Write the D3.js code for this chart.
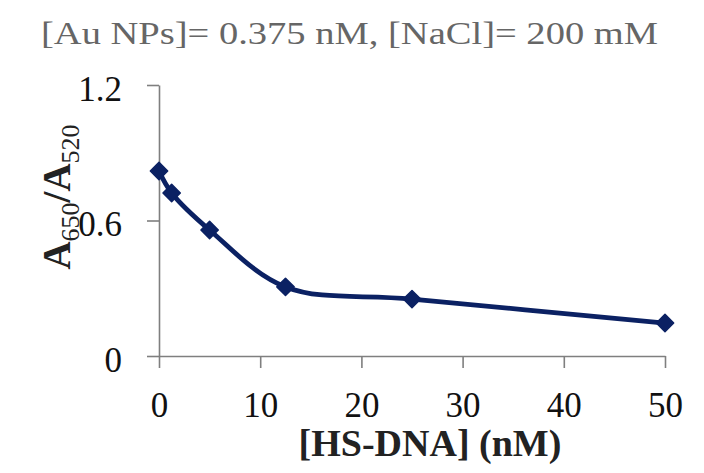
<!DOCTYPE html>
<html>
<head>
<meta charset="utf-8">
<script src="https://cdn.jsdelivr.net/npm/d3@7"></script>
<style>
  body { margin: 0; background: #fff; }
  svg { display: block; }
</style>
</head>
<body>
<svg id="chart"></svg>
<script>
// data
var dnaConc = [0, 1.25, 5, 12.5, 25, 50];
var ratio = [0.819, 0.722, 0.558, 0.306, 0.252, 0.146];
var xTicks = [0, 10, 20, 30, 40, 50];
var yTicks = [0, 0.6, 1.2];

var width = 704, height = 473;
var lineColor = "#0b2163", axisColor = "#7f7f7f";
var serif = "'Liberation Serif', 'Times New Roman', serif";

var svg = d3.select("#chart")
    .attr("width", width)
    .attr("height", height)
    .style("font-family", serif);

var x = d3.scaleLinear().domain([0, 50]).range([159, 665]);
var y = d3.scaleLinear().domain([0, 1.2]).range([356, 85]);

// title
svg.append("text")
    .attr("x", 41)
    .attr("y", 44)
    .attr("textLength", 617)
    .attr("lengthAdjust", "spacingAndGlyphs")
    .style("font-size", "32px")
    .attr("fill", "#666")
    .text("[Au NPs]= 0.375 nM, [NaCl]= 200 mM");

// x axis
var xAxis = svg.append("g")
    .attr("transform", "translate(0," + y(0) + ")")
    .call(d3.axisBottom(x).tickValues(xTicks).tickSize(12).tickSizeOuter(0).tickFormat(d3.format("d")))
    .attr("font-family", serif);
xAxis.select(".domain").attr("stroke", axisColor).attr("stroke-width", 1.6);
xAxis.selectAll(".tick line").attr("stroke", axisColor).attr("stroke-width", 1.6);
xAxis.selectAll(".tick text")
    .attr("y", 61)
    .attr("dy", 0)
    .style("font-size", "35px")
    .attr("fill", "#111");

// y axis
var yAxis = svg.append("g")
    .attr("transform", "translate(" + x(0) + ",0)")
    .call(d3.axisLeft(y).tickValues(yTicks).tickSize(12).tickSizeOuter(0).tickFormat(function(d) { return d === 0 ? "0" : d3.format(".1f")(d); }))
    .attr("font-family", serif);
yAxis.select(".domain").attr("stroke", axisColor).attr("stroke-width", 1.6);
yAxis.selectAll(".tick line").attr("stroke", axisColor).attr("stroke-width", 1.6);
yAxis.selectAll(".tick text")
    .attr("x", -37)
    .attr("dy", "0.43em")
    .style("font-size", "35px")
    .attr("fill", "#111");

// axis titles
svg.append("text")
    .attr("x", 430)
    .attr("y", 456)
    .attr("text-anchor", "middle")
    .style("font-size", "38px")
    .style("font-weight", "bold")
    .attr("fill", "#222")
    .text("[HS-DNA] (nM)");

var yTitle = svg.append("text")
    .attr("transform", "translate(70,197) rotate(-90)")
    .attr("text-anchor", "middle")
    .style("font-size", "39px")
    .style("font-weight", "bold")
    .attr("fill", "#222");
yTitle.append("tspan").text("A");
yTitle.append("tspan").attr("dy", 9).style("font-size", "26px").style("font-weight", "normal").text("650");
yTitle.append("tspan").attr("dy", -9).text("/A");
yTitle.append("tspan").attr("dy", 9).style("font-size", "26px").style("font-weight", "normal").text("520");

// smoothed line
var line = d3.line()
    .x(function(d, i) { return x(dnaConc[i]); })
    .y(function(d) { return y(d); })
    .curve(d3.curveCatmullRom.alpha(0.5));

svg.append("path")
    .datum(ratio)
    .attr("d", line)
    .attr("fill", "none")
    .attr("stroke", lineColor)
    .attr("stroke-width", 4.8)
    .attr("stroke-linejoin", "round");

// diamond markers
svg.selectAll("path.marker")
    .data(ratio)
    .enter().append("path")
    .attr("class", "marker")
    .attr("d", d3.symbol().type(d3.symbolSquare).size(150))
    .attr("transform", function(d, i) { return "translate(" + x(dnaConc[i]) + "," + y(d) + ") rotate(45)"; })
    .attr("fill", lineColor)
    .attr("stroke", lineColor)
    .attr("stroke-width", 1.5)
    .attr("stroke-linejoin", "round");
</script>
</body>
</html>
